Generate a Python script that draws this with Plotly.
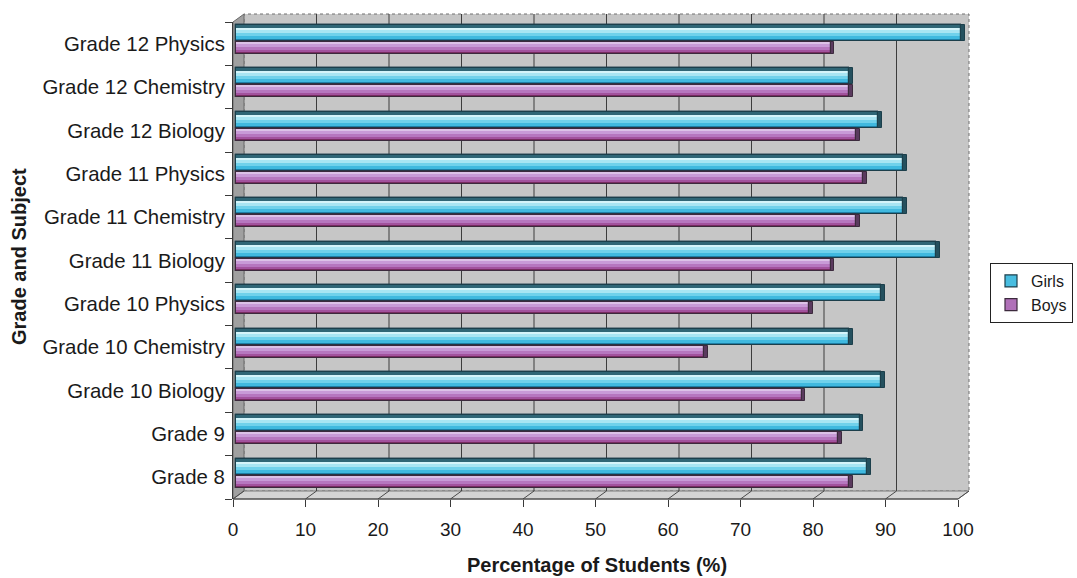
import plotly.graph_objects as go

# ---- data -------------------------------------------------------------
categories = [
    "Grade 8", "Grade 9", "Grade 10 Biology", "Grade 10 Chemistry",
    "Grade 10 Physics", "Grade 11 Biology", "Grade 11 Chemistry",
    "Grade 11 Physics", "Grade 12 Biology", "Grade 12 Chemistry",
    "Grade 12 Physics",
]
girls = [87, 86, 89, 84.5, 89, 96.5, 92, 92, 88.5, 84.5, 100]
boys = [84.5, 83, 78, 64.5, 79, 82, 85.5, 86.5, 85.5, 84.5, 82]
x_ticks = [0, 10, 20, 30, 40, 50, 60, 70, 80, 90, 100]

# ---- geometry of the page (pixels) ------------------------------------
W, H = 1077, 578
PL, PR, PT, PB = 233, 958, 22, 499          # front plane of the plot box (0..100)
PR_EXT = 985                                # subplot extends right so bar ends are not clipped
DX, DY = 11, 8                              # depth of the 3-D box
PW, PH = PR - PL, PB - PT
UNIT = PW / 100                             # pixels per percentage point
X_MAX = (PR_EXT - PL) / UNIT
BAND = PH / len(categories)                 # pixel height of one category
BAR_SHIFT = 3 / UNIT                        # bars sit slightly behind the front plane
CAP = 0.55                                  # side face of each bar (value units)


def px(x):
    return (x - PL) / (PR_EXT - PL)


def py(y):
    return (PB - y) / PH


def stripes(top_px, layers):
    """Split one bar into horizontal bands (top to bottom) in category units."""
    out = []
    top = top_px
    for h, color in layers:
        out.append(((top - h) / BAND, h / BAND, color))
        top -= h
    return out


GIRLS_TOP, GIRLS_H = 18.7, 16
BOYS_TOP, BOYS_H = 1.7, 12

girls_layers = [
    (3, "#2f6676"), (2, "#d4f4fa"), (3, "#a8e5f3"),
    (3, "#70d1eb"), (3, "#40b9df"), (2, "#1f96c5"),
]
boys_layers = [
    (2, "#dcc2e7"), (3, "#c89bd7"), (3, "#b677bf"),
    (2, "#a2529d"), (2, "#8b2e6d"),
]

series = [
    ("Girls", girls, GIRLS_TOP, GIRLS_H, girls_layers, "#48bde0", "#1c3f4b", "#24505e"),
    ("Boys", boys, BOYS_TOP, BOYS_H, boys_layers, "#b070b8", "#3c2a3d", "#5a3a5e"),
]

fig = go.Figure()

for name, vals, top, hgt, layers, mid, edge, side in series:
    full_off, full_w = (top - hgt) / BAND, hgt / BAND
    # base bar (also provides the legend swatch)
    fig.add_trace(go.Bar(
        y=categories, x=vals, orientation="h", name=name, xaxis="x2",
        offset=full_off, width=full_w, legendgroup=name,
        marker=dict(color=mid, line=dict(color=edge, width=1.2)),
        hoverinfo="x+name",
    ))
    # shaded bands for the cylinder-like look
    for off, w, col in stripes(top, layers):
        fig.add_trace(go.Bar(
            y=categories, x=vals, orientation="h", xaxis="x2",
            offset=off, width=w, showlegend=False, legendgroup=name,
            marker=dict(color=col, line=dict(width=0)), hoverinfo="skip",
        ))
    # outline on top
    fig.add_trace(go.Bar(
        y=categories, x=vals, orientation="h", xaxis="x2",
        offset=full_off, width=full_w, showlegend=False, legendgroup=name,
        marker=dict(color="rgba(0,0,0,0)", line=dict(color=edge, width=1.2)),
        hoverinfo="skip",
    ))
    # right-hand side face
    fig.add_trace(go.Bar(
        y=categories, x=[CAP] * len(vals), base=vals, orientation="h",
        xaxis="x2", offset=full_off, width=full_w, showlegend=False,
        legendgroup=name,
        marker=dict(color=side, line=dict(color=edge, width=1)),
        hoverinfo="skip",
    ))

# ---- 3-D box: walls, floor and grid ----------------------------------
shapes = []
wall_line = dict(color="#707070", width=1, dash="dot")
shapes.append(dict(  # back wall
    type="rect", xref="paper", yref="paper", layer="below",
    x0=px(PL + DX), x1=px(PR + DX), y0=py(PB - DY), y1=py(PT - DY),
    fillcolor="#c6c6c6", line=wall_line,
))
shapes.append(dict(  # left wall
    type="path", xref="paper", yref="paper", layer="below",
    path=(f"M {px(PL)},{py(PT)} L {px(PL + DX)},{py(PT - DY)} "
          f"L {px(PL + DX)},{py(PB - DY)} L {px(PL)},{py(PB)} Z"),
    fillcolor="#a0a0a0", line=dict(color="#6a6a6a", width=1),
))
shapes.append(dict(  # floor
    type="path", xref="paper", yref="paper", layer="below",
    path=(f"M {px(PL)},{py(PB)} L {px(PR)},{py(PB)} "
          f"L {px(PR + DX)},{py(PB - DY)} L {px(PL + DX)},{py(PB - DY)} Z"),
    fillcolor="#d4d4d4", line=dict(color="#7a7a7a", width=1),
))
for v in x_ticks:
    if 0 < v < 100:
        shapes.append(dict(  # gridline on the back wall
            type="line", xref="x", yref="paper", layer="below",
            xsizemode="pixel", xanchor=v, x0=DX, x1=DX,
            y0=py(PB - DY), y1=py(PT - DY),
            line=dict(color="#3c3c3c", width=1),
        ))
    shapes.append(dict(  # diagonal tick across the floor
        type="line", xref="x", yref="paper", layer="below",
        xsizemode="pixel", xanchor=v, x0=0, x1=DX,
        y0=py(PB), y1=py(PB - DY),
        line=dict(color="#4a4a4a", width=1),
    ))
shapes.append(dict(  # front edge of the floor (value axis base line)
    type="line", xref="paper", yref="paper", layer="above",
    x0=px(PL), x1=px(PR), y0=0, y1=0,
    line=dict(color="#3a3a3a", width=1),
))

font_family = "Liberation Sans, Arial, sans-serif"

fig.update_layout(
    width=W, height=H, autosize=False,
    margin=dict(l=PL, r=W - PR_EXT, t=PT, b=H - PB, autoexpand=False),
    paper_bgcolor="white", plot_bgcolor="rgba(0,0,0,0)",
    barmode="overlay", bargap=0,
    font=dict(family=font_family, size=19, color="#1a1a1a"),
    shapes=shapes,
    showlegend=True,
    legend=dict(
        x=px(990), y=py(263), xanchor="left", yanchor="top",
        bgcolor="white", bordercolor="#222222", borderwidth=1,
        font=dict(size=16, color="#1a1a1a"), tracegroupgap=8,
        traceorder="normal",
    ),
    xaxis=dict(
        range=[0, X_MAX], tickvals=x_ticks, showgrid=False, zeroline=False,
        showline=False,
        ticks="outside", ticklen=7, tickcolor="#3a3a3a",
        ticklabelstandoff=6, automargin=False,
        tickfont=dict(size=19),
    ),
    xaxis2=dict(
        range=[-BAR_SHIFT, X_MAX - BAR_SHIFT], overlaying="x", anchor="y",
        visible=False, showgrid=False, zeroline=False,
    ),
    yaxis=dict(
        type="category", categoryorder="array", categoryarray=categories,
        range=[-0.5, len(categories) - 0.5], tickson="boundaries",
        ticks="outside", ticklen=7, tickcolor="#3a3a3a",
        showline=True, linecolor="#3a3a3a", linewidth=1,
        showgrid=False, zeroline=False, automargin=False,
        tickfont=dict(size=20.4), ticklabelstandoff=3,
    ),
    annotations=[
        dict(
            text="<b>Percentage of Students (%)</b>", xref="paper", yref="paper",
            x=px(597), y=py(565), xanchor="center", yanchor="middle",
            showarrow=False, font=dict(size=20, color="#1a1a1a"),
        ),
        dict(
            text="<b>Grade and Subject</b>", xref="paper", yref="paper",
            x=px(19), y=py(257), xanchor="center", yanchor="middle",
            textangle=-90, showarrow=False, font=dict(size=20, color="#1a1a1a"),
        ),
    ],
)

fig.write_html("out.html")
